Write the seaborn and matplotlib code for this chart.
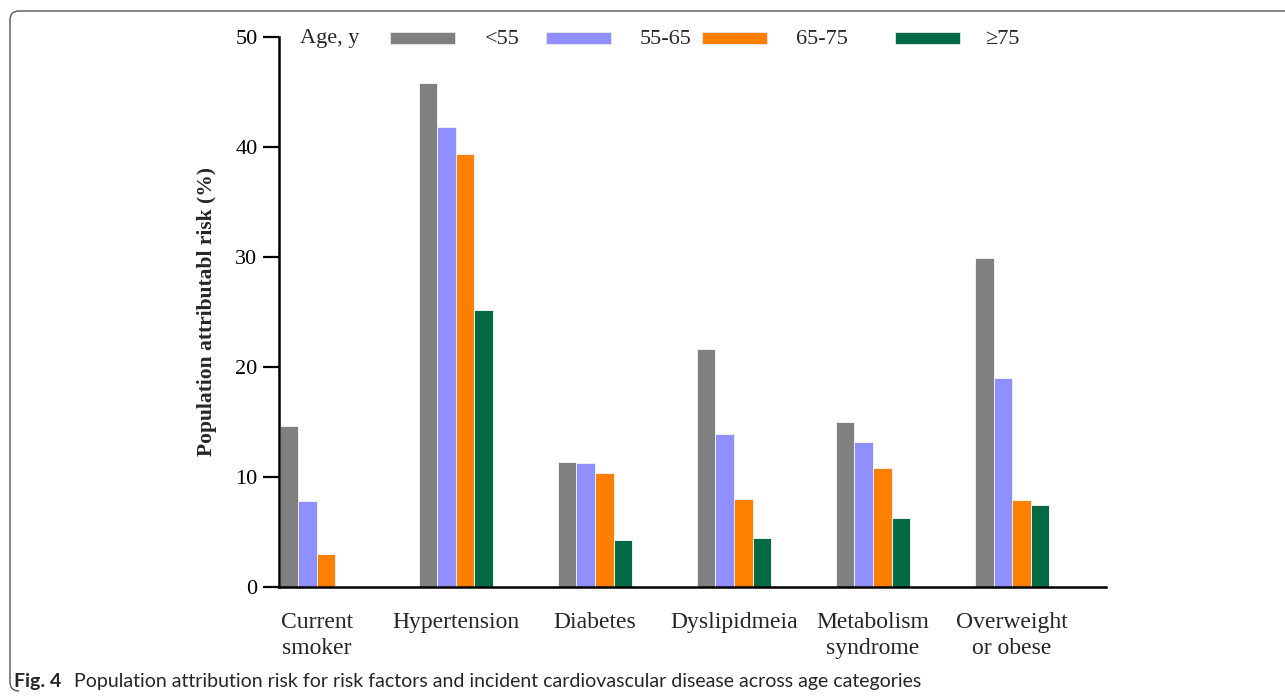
import matplotlib
matplotlib.use("Agg")
import matplotlib.pyplot as plt
from matplotlib.patches import Rectangle
from matplotlib.path import Path
from matplotlib.patches import PathPatch
import seaborn as sns
import pandas as pd

# Risk factors on the x axis
risk_factors = ["Current\nsmoker", "Hypertension", "Diabetes", "Dyslipidmeia",
                "Metabolism\nsyndrome", "Overweight\nor obese"]
age_groups = ["<55", "55-65", "65-75", "\u226575"]

# Population attributable risk (%) by age group
par_lt55 = [14.6, 45.8, 11.4, 21.6, 15.0, 29.9]
par_55_65 = [7.8, 41.8, 11.3, 13.9, 13.2, 19.0]
par_65_75 = [3.0, 39.4, 10.4, 8.0, 10.8, 7.9]
par_ge75 = [0.0, 25.2, 4.3, 4.5, 6.3, 7.5]

colors = ["#808080", "#8f8fff", "#ff8000", "#046a43"]

df = pd.DataFrame({
    "factor": risk_factors * 4,
    "age": sum([[a] * len(risk_factors) for a in age_groups], []),
    "par": par_lt55 + par_55_65 + par_65_75 + par_ge75,
})

sns.set_style("white")
plt.rcParams["font.family"] = ["Liberation Serif", "DejaVu Serif"]

W, H = 1285, 697
fig = plt.figure(figsize=(W / 100, H / 100), dpi=100)
ax = fig.add_axes([279 / W, 1 - 587 / H, (1106 - 279) / W, (587 - 37) / H])

sns.barplot(data=df, x="factor", y="par", hue="age", order=risk_factors,
            hue_order=age_groups, palette=colors, saturation=1, width=0.533,
            gap=0, edgecolor="#f0f0f0", linewidth=0.7, legend=False, ax=ax,
            errorbar=None)

ax.set_xlim(-0.273, 5.676)
ax.set_ylim(0, 50)
ax.set_yticks([0, 10, 20, 30, 40, 50])
ax.set_xlabel("")
ax.set_ylabel("Population attributabl risk (%)", fontsize=15.5, fontweight="bold",
              labelpad=13)
for s in ["top", "right"]:
    ax.spines[s].set_visible(False)
for s in ["left", "bottom"]:
    ax.spines[s].set_linewidth(1.8)
    ax.spines[s].set_color("black")
ax.tick_params(axis="y", direction="out", length=11.5, width=1.6, pad=4,
               labelsize=16, left=True, colors="black")
ax.tick_params(axis="x", length=0, pad=18, labelsize=17)
for lab in ax.get_xticklabels():
    lab.set_linespacing(1.3)
    lab.set_verticalalignment("top")

# Legend row across the top
fig.text(300 / W, 1 - 39 / H, "Age, y", fontsize=16, va="center", ha="left")
patch_x = [390, 546, 702, 895]
label_x = [485, 640, 796, 985]
for c, px, lx, name in zip(colors, patch_x, label_x, age_groups):
    fig.patches.append(Rectangle((px / W, 1 - 44 / H), 65 / W, 12 / H,
                                 transform=fig.transFigure, facecolor=c,
                                 edgecolor="#e8e8e8", linewidth=0.6))
    fig.text(lx / W, 1 - 39 / H, name, fontsize=16, va="center", ha="left")

# Caption frame: top rule and left rule with rounded corners
r = 9
verts = [(W, H - 11), (10 + r, H - 11), (10, H - 11), (10, H - 11 - r),
         (10, 6 + r), (10, 6), (10 + r, 6)]
codes = [Path.MOVETO, Path.LINETO, Path.CURVE3, Path.CURVE3,
         Path.LINETO, Path.CURVE3, Path.CURVE3]
frame = PathPatch(Path([(x / W, y / H) for x, y in verts], codes),
                  transform=fig.transFigure, fill=False, edgecolor="#555555",
                  linewidth=1.0)
fig.patches.append(frame)

fig.text(14 / W, 1 - 681 / H, "Fig. 4", fontsize=14, fontweight="bold",
         family=["Lato", "DejaVu Sans"], va="center", ha="left")
fig.text(74 / W, 1 - 681 / H,
         "Population attribution risk for risk factors and incident cardiovascular disease across age categories",
         fontsize=14, family=["Lato", "DejaVu Sans"], va="center", ha="left")

fig.savefig("out.png", dpi=100, facecolor="white")
